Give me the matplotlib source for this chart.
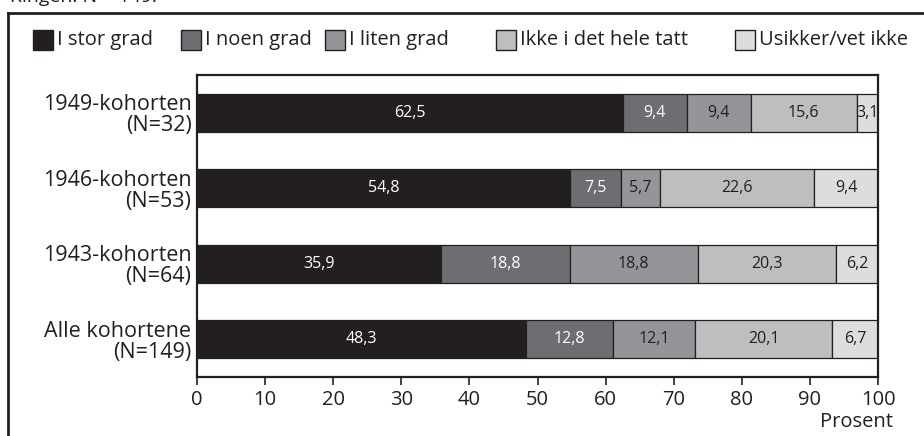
import matplotlib
matplotlib.use("Agg")
import matplotlib.pyplot as plt
from matplotlib.patches import Rectangle
from matplotlib.lines import Line2D

categories = ["Alle kohortene\n(N=149)", "1943-kohorten\n(N=64)", "1946-kohorten\n(N=53)", "1949-kohorten\n(N=32)"]
series_names = ["I stor grad", "I noen grad", "I liten grad", "Ikke i det hele tatt", "Usikker/vet ikke"]
stor = [48.3, 35.9, 54.8, 62.5]
noen = [12.8, 18.8, 7.5, 9.4]
liten = [12.1, 18.8, 5.7, 9.4]
ikke = [20.1, 20.3, 22.6, 15.6]
usikker = [6.7, 6.2, 9.4, 3.1]
series = [stor, noen, liten, ikke, usikker]
xticks = [0, 10, 20, 30, 40, 50, 60, 70, 80, 90, 100]

colors = ["#231f20", "#6d6e71", "#939598", "#bcbec0", "#dcddde"]
text_colors = ["white", "white", "#231f20", "#231f20", "#231f20"]

plt.rcParams['font.family'] = ['Open Sans', 'DejaVu Sans']

fig = plt.figure(figsize=(9.24, 4.36), dpi=100)
ax = fig.add_axes([197/924, 1-377/436, (878-197)/924, (377-75)/436])

ypos = list(range(len(categories)))
left = [0.0]*len(categories)
for vals, col, tc in zip(series, colors, text_colors):
    ax.barh(ypos, vals, left=left, height=0.5, color=col, edgecolor="#231f20", linewidth=0.9)
    for y, v, l in zip(ypos, vals, left):
        ax.text(l + v/2, y, f"{v:.1f}".replace(".", ","), ha="center", va="center",
                color=tc, fontsize=11.5, clip_on=True)
    left = [a + b for a, b in zip(left, vals)]

ax.set_xlim(0, 100)
ax.set_ylim(-0.5, 3.5)
ax.set_xticks(xticks)
ax.set_xticklabels([str(t) for t in xticks], fontsize=14.5, color="#231f20")
ax.set_yticks(ypos)
ax.set_yticklabels(categories, fontsize=15.5, color="#231f20", ha="right", linespacing=1.0)
ax.tick_params(axis="y", length=0, pad=4)
ax.tick_params(axis="x", direction="out", length=6, width=1.2, color="#231f20", pad=3)
for s in ax.spines.values():
    s.set_linewidth(1.6)
    s.set_color("#231f20")
ax.set_xlabel("Prosent", fontsize=14.5, color="#231f20", labelpad=1)
ax.xaxis.set_label_coords(1.0 + 15/681, -0.115)
ax.xaxis.label.set_ha("right")

# outer frame
fig.add_artist(Line2D([8/924, 8/924], [0, 1-13/436], transform=fig.transFigure, color="#231f20", lw=2))
fig.add_artist(Line2D([8/924, 1.0], [1-13/436, 1-13/436], transform=fig.transFigure, color="#231f20", lw=2))

# clipped heading fragment (cut off at the top edge, as in the reference)
fig.text(10/924, 1-2/436, "Ringen: N = 149.", fontsize=14, color="#231f20", va="baseline")

# legend
box_x = [33, 181, 325, 496, 735]
for name, col, bx in zip(series_names, colors, box_x):
    fig.add_artist(Rectangle((bx/924, 1-50/436), 20/924, 20/436, transform=fig.transFigure,
                             facecolor=col, edgecolor="#231f20", lw=1))
    fig.text((bx+24)/924, 1-40/436, name, fontsize=14.5, color="#231f20", va="center", ha="left")

fig.savefig("out.png", dpi=100)
